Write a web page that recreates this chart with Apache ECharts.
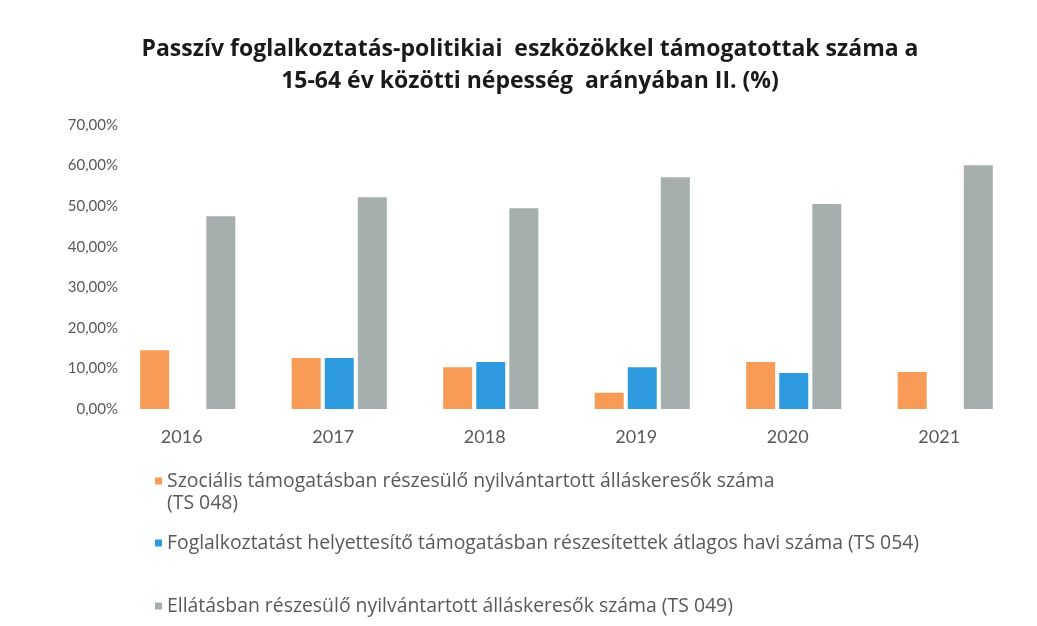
<!DOCTYPE html>
<html>
<head>
<meta charset="utf-8">
<script src="https://cdn.jsdelivr.net/npm/echarts@6/dist/echarts.min.js"></script>
<style>
  html, body { margin: 0; padding: 0; background: #ffffff; }
  #chart { width: 1037px; height: 626px; }
</style>
</head>
<body>
<div id="chart"></div>
<script>
// évek
var years = ['2016', '2017', '2018', '2019', '2020', '2021'];
// sorozatok (%)
var szocialis = [14.5, 12.6, 10.3, 4.0, 11.6, 9.1];
var foglalkoztatast = [null, 12.6, 11.6, 10.3, 8.9, null];
var ellatasban = [47.5, 52.2, 49.5, 57.1, 50.5, 60.1];
var seriesNames = [
  'Szociális támogatásban részesülő nyilvántartott álláskeresők száma (TS 048)',
  'Foglalkoztatást helyettesítő támogatásban részesítettek átlagos havi száma (TS 054)',
  'Ellátásban részesülő nyilvántartott álláskeresők száma (TS 049)'
];
var colors = ['#F79B56', '#2E9BE0', '#A7AEAE'];

var textColor = '#595959';
var font = 'Lato, "Open Sans", sans-serif';
var wideFont = '"Open Sans", sans-serif';

function legendItem(idx, top, fmt) {
  var l = {
    data: [seriesNames[idx]],
    left: 150,
    top: top,
    orient: 'vertical',
    icon: 'rect',
    itemWidth: 7,
    itemHeight: 7,
    itemGap: 0,
    selectedMode: false,
    textStyle: { color: textColor, fontSize: 19.4, fontFamily: wideFont, lineHeight: 22 }
  };
  if (fmt) l.formatter = fmt;
  return l;
}

var chart = echarts.init(document.getElementById('chart'));
var option = {
  backgroundColor: '#ffffff',
  animation: false,
  title: {
    text: 'Passzív foglalkoztatás-politikiai  eszközökkel támogatottak száma a\n15-64 év közötti népesség  arányában II. (%)',
    left: 525,
    textAlign: 'center',
    top: 28,
    textStyle: {
      color: '#1a1a1a',
      fontSize: 23,
      fontWeight: 'bold',
      fontFamily: wideFont,
      lineHeight: 32
    }
  },
  grid: { left: 112, right: 16, top: 125, bottom: 217 },
  legend: [
    legendItem(0, 443, function () {
      return '\nSzociális támogatásban részesülő nyilvántartott álláskeresők száma\n(TS 048)';
    }),
    legendItem(1, 527),
    legendItem(2, 590)
  ],
  xAxis: {
    type: 'category',
    data: years,
    axisLine: { show: false },
    axisTick: { show: false },
    axisLabel: { color: textColor, fontSize: 18, fontFamily: font, margin: 19, padding: [0, 12, 0, 0] }
  },
  yAxis: {
    type: 'value',
    min: 0,
    max: 70,
    interval: 10,
    splitLine: { show: false },
    axisLine: { show: false },
    axisTick: { show: false },
    axisLabel: {
      color: textColor,
      fontSize: 15,
      fontFamily: font,
      margin: -6,
      formatter: function (v) { return v.toFixed(2).replace('.', ',') + '%'; }
    }
  },
  series: [
    { name: seriesNames[0], type: 'bar', data: szocialis, itemStyle: { color: colors[0] }, barWidth: 29, barGap: '14%' },
    { name: seriesNames[1], type: 'bar', data: foglalkoztatast, itemStyle: { color: colors[1] }, barWidth: 29, barGap: '14%' },
    { name: seriesNames[2], type: 'bar', data: ellatasban, itemStyle: { color: colors[2] }, barWidth: 29, barGap: '14%' }
  ]
};
chart.setOption(option);
</script>
</body>
</html>
